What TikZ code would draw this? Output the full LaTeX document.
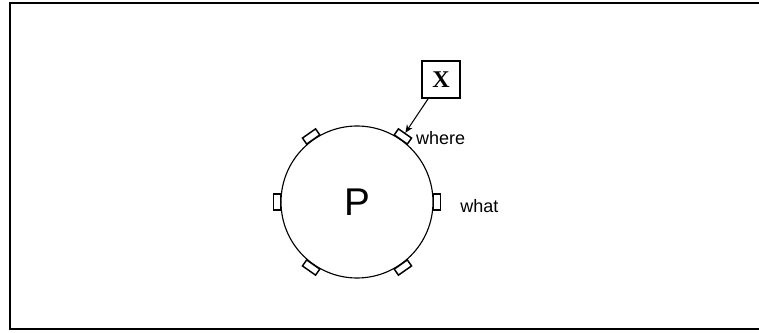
\documentclass[tikz,border=0pt]{standalone}
\usepackage{fontspec}
\setmainfont{Liberation Sans}
\newfontfamily\xfont{Liberation Serif}
\usetikzlibrary{positioning,arrows.meta}
\tikzset{
  port/.style ={rectangle, draw=black, line width=1.1pt, fill=white,
                minimum width=5.5pt, minimum height=12pt, inner sep=0pt},
  lbl/.style  ={inner sep=0pt, font=\fontsize{13.5}{16}\selectfont},
  ext/.style  ={rectangle, draw=black, line width=1.2pt, minimum width=28.5pt,
                minimum height=27.75pt, inner sep=0pt,
                font=\xfont\bfseries\fontsize{18}{21}\selectfont},
  arr/.style  ={-{Stealth[length=6pt,width=5pt]}, line width=0.8pt},
}

\begin{document}
\begin{tikzpicture}[x=0.75pt, y=0.75pt]
  \useasboundingbox (0,0) rectangle (759,332);
  % frame, open on the right
  \draw[line width=1.6pt] (759,329) -- (10,329) -- (10,3) -- (759,3);

  \node[circle, draw, line width=0.85pt, minimum size=114pt, inner sep=0pt,
        font=\fontsize{29}{34}\selectfont] (proc) at (357,130) {P};

  % ports round the process
  \foreach \a in {0,55,125,180,235,305}
    \node[port, rotate=\a] (p\a) at ([shift={(\a:80)}]proc.center) {};

  \node[ext] (x) at (441,252.5) {X};
  \draw[arr] (x) -- (p55);

  \node[lbl, anchor=west, xshift=9.75pt, yshift=-1.5pt] (where) at (p55.center) {where};
  \node[lbl, anchor=west, xshift=17.25pt, yshift=-3.4pt] (what) at (p0.center) {what};
\end{tikzpicture}
\end{document}
